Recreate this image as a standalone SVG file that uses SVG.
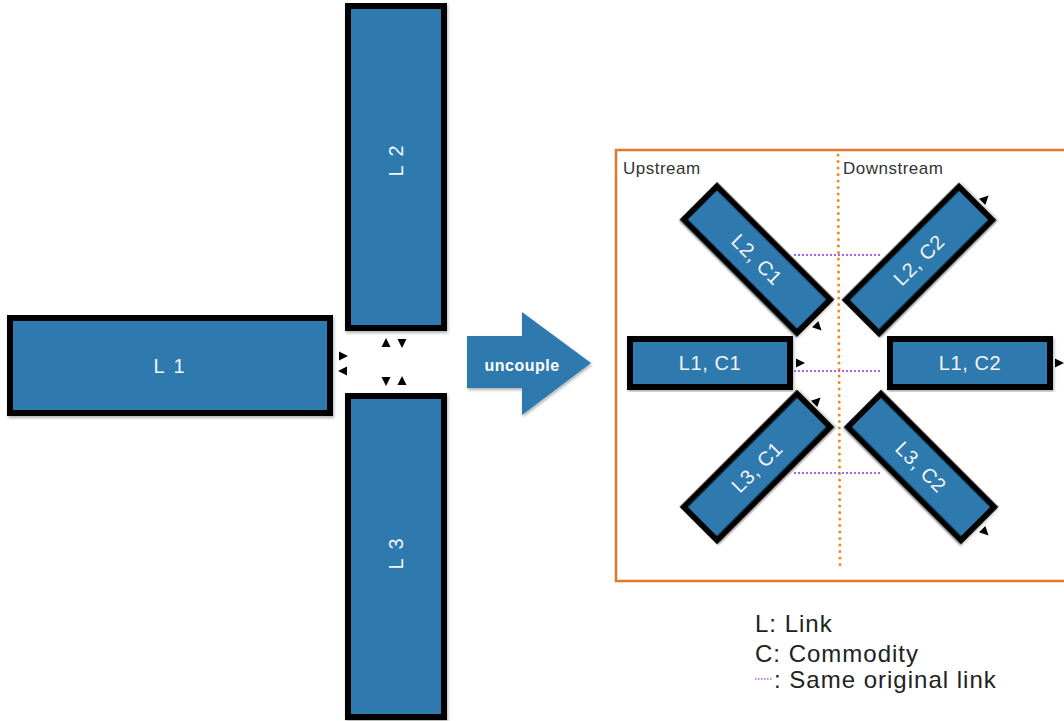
<svg xmlns="http://www.w3.org/2000/svg" width="1064" height="721" viewBox="0 0 1064 721">
<defs>
<style>
.box{fill:#2f79ae;stroke:#000;stroke-width:6}
.lbl{font-family:"Liberation Sans",Arial,sans-serif;fill:#f4f6f8;font-size:20px;letter-spacing:0.6px;text-anchor:middle;dominant-baseline:central}
.txt{font-family:"Liberation Sans",Arial,sans-serif;fill:#333}
.leg{font-size:24px;letter-spacing:1px;fill:#222}
.tri{fill:#000}
.purple{stroke:#b15fe8;stroke-width:2;stroke-dasharray:2 2;fill:none}
.orange{stroke:#f08a1c;stroke-width:3;stroke-dasharray:0 6.5;stroke-linecap:round;fill:none}
</style>
<path id="tri" d="M-4,-4.5 L5,0 L-4,4.5 Z"/>
<filter id="sh" x="-10%" y="-10%" width="120%" height="120%">
<feDropShadow dx="1" dy="2" stdDeviation="1.5" flood-color="#000" flood-opacity="0.3"/>
</filter>
</defs>
<rect width="1064" height="721" fill="#fff"/>

<g id="L1"><rect class="box" x="10" y="318" width="320" height="95" filter="url(#sh)"/><text class="lbl" x="170" y="366" style="letter-spacing:2px">L 1</text></g>
<g id="L2"><rect class="box" x="348" y="6" width="96" height="322" filter="url(#sh)"/><text class="lbl" transform="translate(396,160) rotate(-90)" style="letter-spacing:2px">L 2</text></g>
<g id="L3"><rect class="box" x="348" y="396" width="96" height="321" filter="url(#sh)"/><text class="lbl" transform="translate(396,553) rotate(-90)" style="letter-spacing:2px">L 3</text></g>

<g id="uncouple">
<path d="M467,336 L522,336 L522,312 L591,363 L522,415 L522,388 L467,388 Z" fill="#2f79ae" filter="url(#sh)"/>
<text x="522" y="365" font-family="Liberation Sans,Arial,sans-serif" font-weight="bold" font-size="16" letter-spacing="0.5" fill="#fff" text-anchor="middle" dominant-baseline="central">uncouple</text>
</g>

<g id="panel">
<rect x="616" y="150" width="460" height="431" fill="#fff" stroke="#e07a2a" stroke-width="2.5"/>
<line class="orange" x1="838" y1="155" x2="840" y2="570"/>
<text class="txt" x="623" y="174" font-size="17" letter-spacing="0.5">Upstream</text>
<text class="txt" x="843" y="174" font-size="17" letter-spacing="0.5">Downstream</text>
</g>

<g id="L2C1"><rect class="box" x="-80" y="-23.5" width="160" height="47" transform="translate(757,259.5) rotate(45)" filter="url(#sh)"/><text class="lbl" transform="translate(757,259.5) rotate(45)">L2, C1</text></g>
<g id="L2C2"><rect class="box" x="-80" y="-23.5" width="160" height="47" transform="translate(919,260) rotate(-45)" filter="url(#sh)"/><text class="lbl" transform="translate(919,260) rotate(-45)">L2, C2</text></g>
<g id="L1C1"><rect class="box" x="630" y="339" width="160" height="48" filter="url(#sh)"/><text class="lbl" x="710" y="363">L1, C1</text></g>
<g id="L1C2"><rect class="box" x="890" y="339" width="160" height="48" filter="url(#sh)"/><text class="lbl" x="970" y="363">L1, C2</text></g>
<g id="L3C1"><rect class="box" x="-80" y="-23.5" width="160" height="47" transform="translate(757,467) rotate(-45)" filter="url(#sh)"/><text class="lbl" transform="translate(757,467) rotate(-45)">L3, C1</text></g>
<g id="L3C2"><rect class="box" x="-80" y="-23.5" width="160" height="47" transform="translate(921,467) rotate(45)" filter="url(#sh)"/><text class="lbl" transform="translate(921,467) rotate(45)">L3, C2</text></g>

<g id="connectors">
<line class="purple" x1="794" y1="255" x2="882" y2="255"/>
<line class="purple" x1="794" y1="371" x2="882" y2="371"/>
<line class="purple" x1="794" y1="473" x2="882" y2="473"/>
<use href="#tri" class="tri" transform="translate(343,356)"/>
<use href="#tri" class="tri" transform="translate(343,371) rotate(180)"/>
<use href="#tri" class="tri" transform="translate(386,343) rotate(-90)"/>
<use href="#tri" class="tri" transform="translate(402,343) rotate(90)"/>
<use href="#tri" class="tri" transform="translate(386,381) rotate(90)"/>
<use href="#tri" class="tri" transform="translate(402,381) rotate(-90)"/>
<use href="#tri" class="tri" transform="translate(818,327) rotate(45)"/>
<use href="#tri" class="tri" transform="translate(985,199) rotate(-45)"/>
<use href="#tri" class="tri" transform="translate(800,363)"/>
<use href="#tri" class="tri" transform="translate(1059,363)"/>
<use href="#tri" class="tri" transform="translate(817,401) rotate(-45)"/>
<use href="#tri" class="tri" transform="translate(985,532) rotate(45)"/>
</g>

<g id="legend">
<text class="txt leg" x="755" y="632">L: Link</text>
<text class="txt leg" x="755" y="662">C: Commodity</text>
<line x1="755" y1="679" x2="773" y2="679" stroke="#b15fe8" stroke-width="1.5" stroke-dasharray="1.5 1.5"/>
<text class="txt leg" x="774" y="688">: Same original link</text>
</g>
</svg>
